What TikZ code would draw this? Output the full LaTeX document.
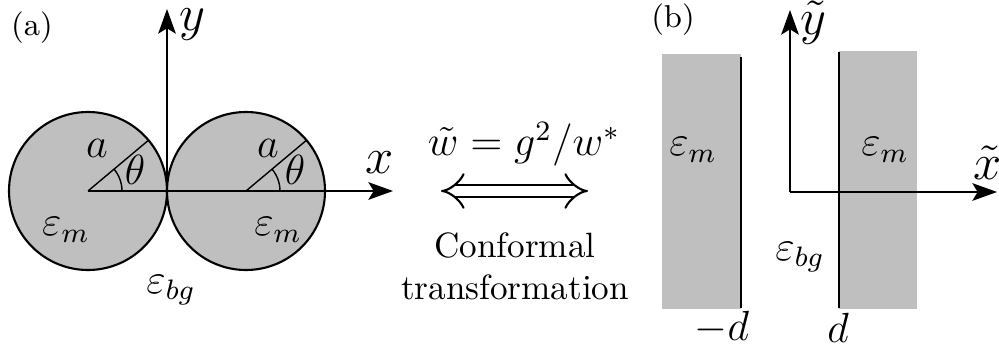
\documentclass[tikz,border=0pt]{standalone}
\usepackage{amsmath,amssymb}
\usepackage{tikz}
\usetikzlibrary{arrows.meta,positioning}

\begin{document}
\begin{tikzpicture}[>={Stealth[length=7pt,width=5pt,inset=1.5pt]},
  axis/.style={semithick,->},
  metal/.style={fill=black!25},
  lbl/.style={inner sep=0pt,font=\large},
  axlbl/.style={inner sep=0pt,font=\Large}]
  \useasboundingbox (0,0) rectangle (9.99,3.52);
  % (a) two touching cylinders
  \coordinate (OL) at (0.88,1.61);
  \coordinate (OR) at (2.46,1.61);
  \coordinate (O) at (1.67,1.61);
  \coordinate (xa) at (3.93,1.61);
  \coordinate (ya) at (1.67,3.43);
  \draw[semithick,metal] (OL) circle (0.79);
  \draw[semithick,metal] (OR) circle (0.79);
  \draw[semithick] (OL) -- (O);
  \draw (OL) -- ++(40:0.79);
  \draw (OR) -- ++(40:0.79);
  \draw (OL) ++(0.34,0) arc (0:40:0.34);
  \draw (OR) ++(0.34,0) arc (0:40:0.34);
  \draw[axis] (O) -- (xa);
  \draw[axis] (O) -- (ya);
  \node[inner sep=0pt,font=\small] (la) at (0.32,3.24) {(a)};
  \node[axlbl] (lx) at (3.80,1.89) {$x$};
  \node[axlbl] (ly) at (1.92,3.27) {$y$};
  \node[lbl] (aL) at (0.97,2.04) {$a$};
  \node[lbl] (aR) at (2.68,2.04) {$a$};
  \node[lbl] (thL) at (1.35,1.82) {$\theta$};
  \node[lbl] (thR) at (2.95,1.82) {$\theta$};
  \node[lbl] (emL) at (0.66,1.22) {$\varepsilon_m$};
  \node[lbl] (emR) at (2.78,1.22) {$\varepsilon_m$};
  \node[lbl] (ebgA) at (1.71,0.62) {$\varepsilon_{bg}$};
  % mapping
  \coordinate (tl) at (4.41,1.61);
  \coordinate (tr) at (5.88,1.61);
  \draw[double,double distance=3pt,semithick,{Implies}-{Implies}] (tl) -- (tr);
  \node[lbl] (map) at (5.24,2.08) {$\tilde{w}=g^2/w^*$};
  \node[inner sep=0pt,align=center] (conf) at (5.15,0.86) {Conformal\\transformation};
  % (b) two half-spaces
  \fill[metal] (6.62,0.43) rectangle (7.41,2.98);
  \fill[metal] (8.39,0.43) rectangle (9.17,3.01);
  \draw[semithick] (7.41,0.44) -- (7.41,2.95);
  \draw[semithick] (8.39,0.44) -- (8.39,3.00);
  \coordinate (Ob) at (7.90,1.60);
  \coordinate (xb) at (9.97,1.60);
  \coordinate (yb) at (7.90,3.42);
  \draw[axis] (Ob) -- (xb);
  \draw[axis] (Ob) -- (yb);
  \node[inner sep=0pt,font=\small] (lb) at (6.73,3.32) {(b)};
  \node[axlbl] (lxt) at (9.88,1.89) {$\tilde{x}$};
  \node[axlbl] (lyt) at (8.13,3.29) {$\tilde{y}$};
  \node[lbl] (emB1) at (6.93,2.02) {$\varepsilon_m$};
  \node[lbl] (emB2) at (8.85,2.02) {$\varepsilon_m$};
  \node[lbl] (ebgB) at (8.00,0.95) {$\varepsilon_{bg}$};
  \node[lbl] (md) at (7.22,0.24) {$-d$};
  \node[lbl] (pd) at (8.38,0.24) {$d$};
\end{tikzpicture}
\end{document}
